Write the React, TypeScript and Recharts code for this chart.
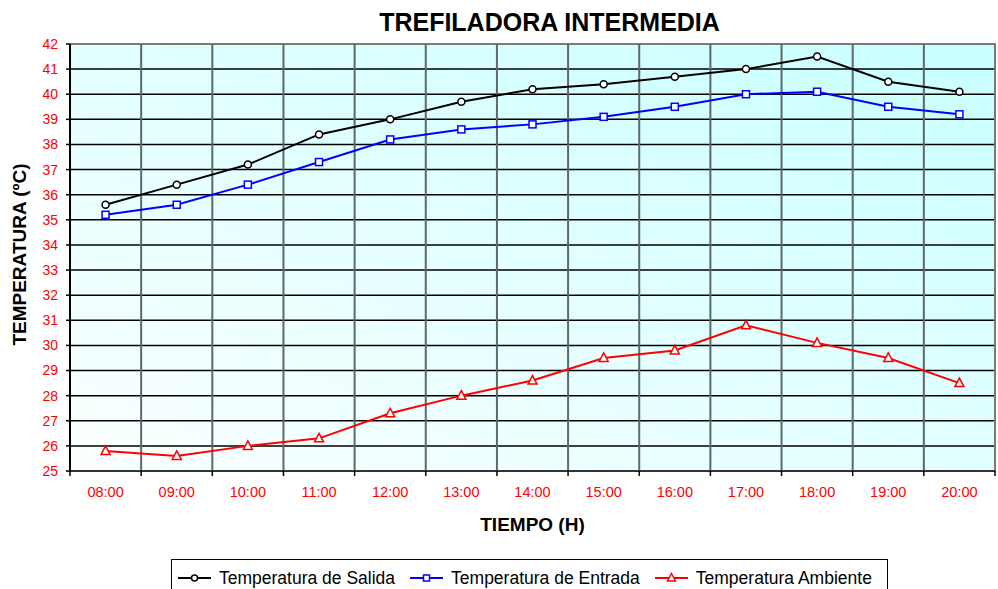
import React from "react";
import {
  LineChart,
  Line,
  XAxis,
  YAxis,
  CartesianGrid,
  ReferenceLine,
  ReferenceArea,
  Label,
} from "recharts";

const hours = [
  "08:00", "09:00", "10:00", "11:00", "12:00", "13:00", "14:00",
  "15:00", "16:00", "17:00", "18:00", "19:00", "20:00",
];
const salida = [35.6, 36.4, 37.2, 38.4, 39.0, 39.7, 40.2, 40.4, 40.7, 41.0, 41.5, 40.5, 40.1];
const entrada = [35.2, 35.6, 36.4, 37.3, 38.2, 38.6, 38.8, 39.1, 39.5, 40.0, 40.1, 39.5, 39.2];
const ambiente = [25.8, 25.6, 26.0, 26.3, 27.3, 28.0, 28.6, 29.5, 29.8, 30.8, 30.1, 29.5, 28.5];
const yTicks = [25, 26, 27, 28, 29, 30, 31, 32, 33, 34, 35, 36, 37, 38, 39, 40, 41, 42];

const FONT = "'Liberation Sans', Arial, sans-serif";

// each hour sits in the middle of its cell, grid lines on the cell edges
const data = hours.map((h, i) => ({
  hour: h,
  pos: i + 0.5,
  salida: salida[i],
  entrada: entrada[i],
  ambiente: ambiente[i],
}));
const edges = hours.map((_, i) => i).concat([hours.length]);
const xTicks = edges.concat(data.map((d) => d.pos)).sort((a, b) => a - b);

function HourTick({ x, y, payload }: any) {
  const v = payload.value;
  if (Number.isInteger(v)) {
    return <line x1={x} y1={y} x2={x} y2={y + 5} stroke="#000" strokeWidth={1.5} />;
  }
  return (
    <text x={x} y={y + 16} dy="0.71em" textAnchor="middle" fill="#ff0000" fontSize={14.5}>
      {hours[Math.floor(v)]}
    </text>
  );
}

function CircleDot({ cx, cy, index }: any) {
  return <circle key={"c" + index} cx={cx} cy={cy} r={3.5} fill="#fff" stroke="#000" strokeWidth={1.5} />;
}

function SquareDot({ cx, cy, index }: any) {
  return (
    <rect key={"s" + index} x={cx - 3.5} y={cy - 3.5} width={7} height={7} fill="#fff" stroke="#0000ff" strokeWidth={1.5} />
  );
}

function TriangleDot({ cx, cy, index }: any) {
  const p = `${cx},${cy - 5} ${cx + 4.5},${cy + 3.5} ${cx - 4.5},${cy + 3.5}`;
  return <polygon key={"t" + index} points={p} fill="#fff" stroke="#ff0000" strokeWidth={1.5} />;
}

function LegendItem({ color, shape, text }: { color: string; shape: string; text: string }) {
  return (
    <div style={{ display: "flex", alignItems: "center" }}>
      <svg width={33} height={12} style={{ marginRight: 8 }}>
        <line x1={0} y1={6} x2={33} y2={6} stroke={color} strokeWidth={2} />
        {shape === "circle" && <circle cx={16.5} cy={6} r={3} fill="#fff" stroke={color} strokeWidth={1.5} />}
        {shape === "square" && <rect x={13.5} y={3} width={6} height={6} fill="#fff" stroke={color} strokeWidth={1.5} />}
        {shape === "triangle" && (
          <polygon points="16.5,1.5 20.5,9 12.5,9" fill="#fff" stroke={color} strokeWidth={1.5} />
        )}
      </svg>
      <span>{text}</span>
    </div>
  );
}

export default function App() {
  return (
    <div style={{ position: "absolute", left: 0, top: 0, width: 998, height: 589, background: "#fff", fontFamily: FONT }}>
      <div
        style={{
          position: "absolute",
          left: 549.5,
          top: 9.8,
          transform: "translateX(-50%)",
          fontSize: 25,
          lineHeight: "25px",
          fontWeight: "bold",
          whiteSpace: "nowrap",
        }}
      >
        TREFILADORA INTERMEDIA
      </div>

      <LineChart width={998} height={589} data={data} margin={{ top: 44, right: 3, left: 0, bottom: 0 }}>
        <defs>
          <linearGradient id="plotBg" x1="0" y1="1" x2="1" y2="0">
            <stop offset="0%" stopColor="#fcffff" />
            <stop offset="100%" stopColor="#c8ffff" />
          </linearGradient>
        </defs>
        <CartesianGrid vertical={false} stroke="#000" strokeWidth={1.5} fill="url(#plotBg)" fillOpacity={1} />
        {edges.slice(1, -1).map((e) => (
          <ReferenceLine key={e} x={e} stroke="#5d6868" strokeWidth={2} />
        ))}
        <XAxis
          dataKey="pos"
          type="number"
          domain={[0, hours.length]}
          ticks={xTicks}
          interval={0}
          tick={<HourTick />}
          tickLine={false}
          tickSize={0}
          tickMargin={0}
          height={118}
          axisLine={{ stroke: "#333", strokeWidth: 2 }}
        >
          <Label
            content={({ viewBox }: any) => (
              <text
                x={viewBox.x + viewBox.width / 2}
                y={viewBox.y + 60}
                textAnchor="middle"
                fontSize={19}
                fontWeight="bold"
                fill="#000"
              >
                TIEMPO (H)
              </text>
            )}
          />
        </XAxis>
        <YAxis
          type="number"
          domain={[25, 42]}
          ticks={yTicks}
          interval={0}
          width={70}
          tickSize={4}
          tickMargin={8}
          tick={{ fill: "#ff0000", fontSize: 14 }}
          tickLine={{ stroke: "#000", strokeWidth: 1.5 }}
          axisLine={{ stroke: "#000", strokeWidth: 2 }}
        >
          <Label
            content={({ viewBox }: any) => {
              const cx = viewBox.x + 19;
              const cy = viewBox.y + viewBox.height / 2 - 3;
              return (
                <text
                  x={cx}
                  y={cy}
                  transform={`rotate(-90, ${cx}, ${cy})`}
                  textAnchor="middle"
                  dominantBaseline="central"
                  fontSize={19}
                  fontWeight="bold"
                  fill="#000"
                >
                  TEMPERATURA (ºC)
                </text>
              );
            }}
          />
        </YAxis>
        <ReferenceArea x1={0} x2={hours.length} y1={25} y2={42} fill="none" stroke="#7a7a7a" strokeWidth={2} />
        <Line
          dataKey="salida"
          name="Temperatura de Salida"
          stroke="#000"
          strokeWidth={2}
          dot={<CircleDot />}
          isAnimationActive={false}
        />
        <Line
          dataKey="entrada"
          name="Temperatura de Entrada"
          stroke="#0000ff"
          strokeWidth={2}
          dot={<SquareDot />}
          isAnimationActive={false}
        />
        <Line
          dataKey="ambiente"
          name="Temperatura Ambiente"
          stroke="#ff0000"
          strokeWidth={2}
          dot={<TriangleDot />}
          isAnimationActive={false}
        />
      </LineChart>

      <div
        style={{
          position: "absolute",
          left: 171,
          top: 559,
          width: 717,
          height: 40,
          border: "1px solid #000",
          boxSizing: "border-box",
          background: "#fff",
          display: "flex",
          alignItems: "flex-start",
          paddingLeft: 6,
          paddingTop: 8,
          gap: 15,
          fontSize: 17.5,
          lineHeight: "20px",
          whiteSpace: "nowrap",
        }}
      >
        <LegendItem color="#000" shape="circle" text="Temperatura de Salida" />
        <LegendItem color="#0000ff" shape="square" text="Temperatura de Entrada" />
        <LegendItem color="#ff0000" shape="triangle" text="Temperatura Ambiente" />
      </div>
    </div>
  );
}
